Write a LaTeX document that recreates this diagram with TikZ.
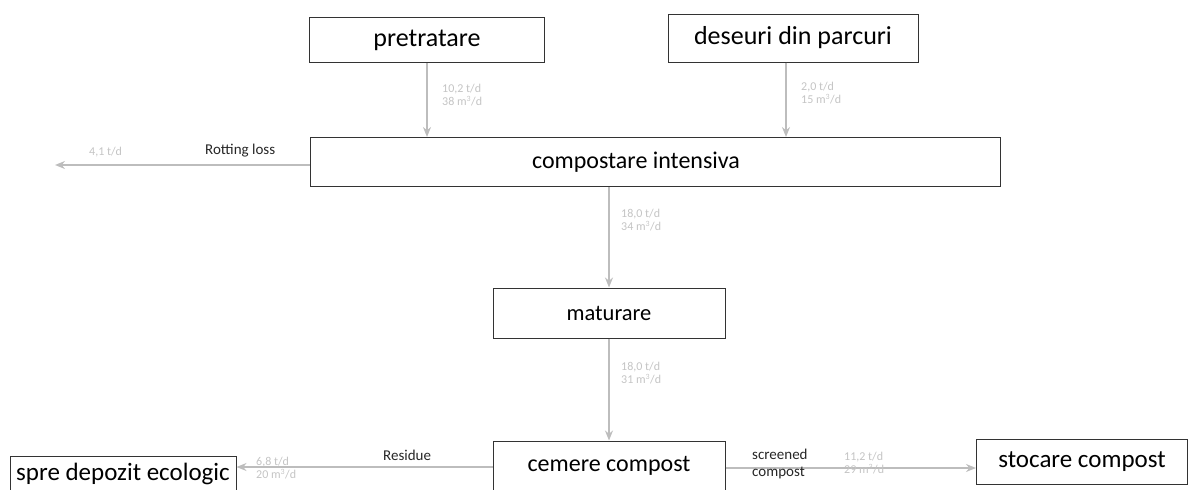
\documentclass[tikz,border=0pt]{standalone}
\usepackage{fontspec}
\setmainfont{Carlito}
\usetikzlibrary{arrows.meta}
\definecolor{linegray}{HTML}{BDBDBD}
\definecolor{labgray}{HTML}{C4C4C4}
\definecolor{boxline}{HTML}{333333}
\tikzset{
  procbox/.style={draw=boxline, line width=1pt, fill=white, inner sep=0pt, text=black},
  flow/.style={draw=linegray, line width=1.6pt, -{Stealth[length=10pt,width=8pt]}},
  qty/.style={font=\fontsize{12}{13}\selectfont, text=labgray, align=left, inner sep=1pt},
  tag/.style={font=\fontsize{15}{17}\selectfont, text=black!85, align=left, inner sep=1pt},
}
\newcommand{\fs}[1]{\fontsize{#1}{#1}\selectfont}
\begin{document}
\begin{tikzpicture}[x=1pt,y=-1pt]
\useasboundingbox (0,0) rectangle (1197,490);
\node[procbox, minimum width=235pt, minimum height=45pt, font=\fs{26}] (pre) at (427,40) {pretratare};
\node[procbox, minimum width=250pt, minimum height=48pt, font=\fs{26}] (des) at (793,38) {deseuri din parcuri};
\node[procbox, minimum width=690pt, minimum height=49pt, font=\fs{24}] (ci) at (655,162) {\hspace*{-38pt}compostare intensiva};
\node[procbox, minimum width=232pt, minimum height=50pt, font=\fs{22.5}] (mat) at (609,313) {maturare};
\node[procbox, minimum width=232pt, minimum height=50pt, font=\fs{24}] (cem) at (609,466) {cemere compost};
\node[procbox, minimum width=226pt, minimum height=36pt, font=\fs{25}] (dep) at (123,474) {spre depozit ecologic};
\node[procbox, minimum width=211pt, minimum height=45pt, font=\fs{25}] (sto) at (1082,462) {stocare compost};
\coordinate (loss) at (55,165);

\draw[flow] (pre.south) -- (pre.south |- ci.north);
\draw[flow] ([xshift=-7pt]des.south) -- ([xshift=-7pt]des.south |- ci.north);
\draw[flow] (ci.south -| mat.north) -- (mat.north);
\draw[flow] (mat.south) -- (cem.north);
\draw[flow] ([yshift=-3pt]ci.west) -- ([yshift=-3pt]ci.west -| loss);
\draw[flow] ([yshift=-1pt]cem.west) -- ([yshift=-1pt]cem.west -| dep.east);
\draw[flow] ([yshift=-2pt]cem.east) -- ([yshift=-2pt]cem.east -| sto.west);

\node[qty, anchor=west] (q1) at (441,95) {10,2 t/d\\38 m\textsuperscript{3}/d};
\node[qty, anchor=west] (q2) at (800,93) {2,0 t/d\\15 m\textsuperscript{3}/d};
\node[qty, anchor=west] (q3) at (88,152) {4,1 t/d};
\node[tag, anchor=west] (t3) at (204,151) {Rotting loss};
\node[qty, anchor=west] (q4) at (620,220) {18,0 t/d\\34 m\textsuperscript{3}/d};
\node[qty, anchor=west] (q5) at (620,373) {18,0 t/d\\31 m\textsuperscript{3}/d};
\node[qty, anchor=west] (q6) at (255,468) {6,8 t/d\\20 m\textsuperscript{3}/d};
\node[tag, anchor=west] (t6) at (382,455) {Residue};
\node[tag, anchor=west] (t7) at (751,464) {screened\\compost};
\node[qty, anchor=west] (q7) at (843,463) {11,2 t/d\\29 m\textsuperscript{3}/d};
\end{tikzpicture}
\end{document}
